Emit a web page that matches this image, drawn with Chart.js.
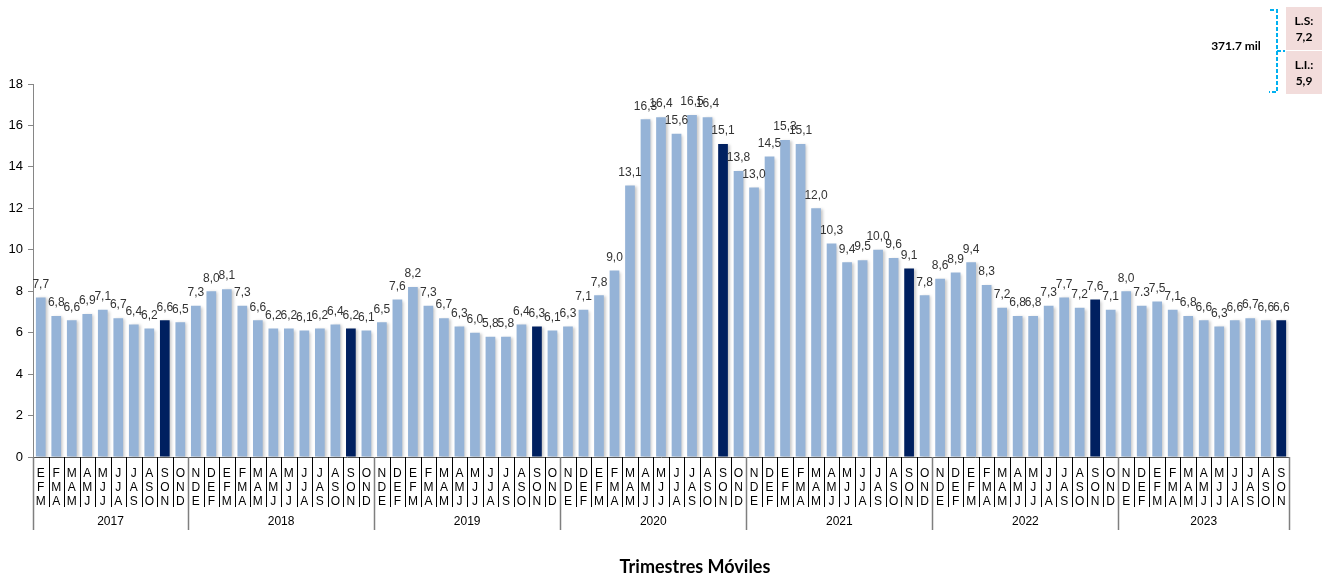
<!DOCTYPE html>
<html>
<head>
<meta charset="utf-8">
<script src="https://cdn.jsdelivr.net/npm/chart.js@4.4.1/dist/chart.umd.min.js"></script>
<style>
html,body{margin:0;padding:0;background:#fff;}
#wrap{width:1322px;height:576px;position:relative;}
</style>
</head>
<body>
<div id="wrap"><canvas id="c" width="1322" height="576"></canvas></div>
<script>
const categories = [
  'EFM','FMA','MAM','AMJ','MJJ','JJA','JAS','ASO','SON','OND',
  'NDE','DEF','EFM','FMA','MAM','AMJ','MJJ','JJA','JAS','ASO','SON','OND',
  'NDE','DEF','EFM','FMA','MAM','AMJ','MJJ','JJA','JAS','ASO','SON','OND',
  'NDE','DEF','EFM','FMA','MAM','AMJ','MJJ','JJA','JAS','ASO','SON','OND',
  'NDE','DEF','EFM','FMA','MAM','AMJ','MJJ','JJA','JAS','ASO','SON','OND',
  'NDE','DEF','EFM','FMA','MAM','AMJ','MJJ','JJA','JAS','ASO','SON','OND',
  'NDE','DEF','EFM','FMA','MAM','AMJ','MJJ','JJA','JAS','ASO','SON'
];
const values = [
  7.7,6.8,6.6,6.9,7.1,6.7,6.4,6.2,6.6,6.5,
  7.3,8.0,8.1,7.3,6.6,6.2,6.2,6.1,6.2,6.4,6.2,6.1,
  6.5,7.6,8.2,7.3,6.7,6.3,6.0,5.8,5.8,6.4,6.3,6.1,
  6.3,7.1,7.8,9.0,13.1,16.3,16.4,15.6,16.5,16.4,15.1,13.8,
  13.0,14.5,15.3,15.1,12.0,10.3,9.4,9.5,10.0,9.6,9.1,7.8,
  8.6,8.9,9.4,8.3,7.2,6.8,6.8,7.3,7.7,7.2,7.6,7.1,
  8.0,7.3,7.5,7.1,6.8,6.6,6.3,6.6,6.7,6.6,6.6
];
const years = ['2017','2018','2019','2020','2021','2022','2023'];
const yearCounts = [10,12,12,12,12,12,11];
const yTicks = [0,2,4,6,8,10,12,14,16,18];
// the source prints this one value with a period
const labelOverrides = { 71: '7.3' };

const LIGHT = '#95B3D7', DARK = '#002060';
const NARROW = "'Liberation Sans Narrow','Arial Narrow','Liberation Sans',Arial,sans-serif";
const barColors = categories.map(c => c === 'SON' ? DARK : LIGHT);
const fmt = (v, i) => labelOverrides[i] || v.toFixed(1).replace('.', ',');

const decor = {
  id: 'decor',
  beforeDatasetsDraw(chart) {
    const ctx = chart.ctx;
    ctx.save();
    ctx.shadowColor = 'rgba(0,0,0,0.22)';
    ctx.shadowBlur = 3;
    ctx.shadowOffsetX = 2;
    ctx.shadowOffsetY = 1;
  },
  afterDatasetsDraw(chart) {
    const ctx = chart.ctx;
    ctx.restore();
    const meta = chart.getDatasetMeta(0);
    ctx.save();
    ctx.font = "12px " + NARROW;
    ctx.fillStyle = '#333';
    ctx.textAlign = 'center';
    ctx.textBaseline = 'bottom';
    meta.data.forEach((bar, i) => {
      ctx.fillText(fmt(values[i], i), bar.x, bar.y - 7);
    });
    ctx.restore();
  },
  afterDraw(chart) {
    const ctx = chart.ctx;
    const xs = chart.scales.x;
    const bottom = chart.chartArea.bottom;
    const step = xs.getPixelForValue(1) - xs.getPixelForValue(0);
    const edge = i => xs.getPixelForValue(i) - step / 2;
    const groupEdges = [0];
    yearCounts.reduce((a, n) => { groupEdges.push(a + n); return a + n; }, 0);
    ctx.save();
    ctx.strokeStyle = '#000';
    ctx.lineWidth = 1;
    for (let i = 1; i < categories.length; i++) {
      if (groupEdges.includes(i)) continue;
      const x = Math.round(edge(i)) + 0.5;
      ctx.beginPath(); ctx.moveTo(x, bottom); ctx.lineTo(x, bottom + 50); ctx.stroke();
    }
    ctx.strokeStyle = '#7f7f7f';
    ctx.lineWidth = 1.5;
    groupEdges.forEach(g => {
      const x = Math.round(edge(g)) + 0.5;
      ctx.beginPath(); ctx.moveTo(x, bottom); ctx.lineTo(x, bottom + 73); ctx.stroke();
    });
    ctx.fillStyle = '#000';
    ctx.font = "12px " + NARROW;
    ctx.textAlign = 'center';
    ctx.textBaseline = 'middle';
    years.forEach((y, k) => {
      const x = (edge(groupEdges[k]) + edge(groupEdges[k + 1])) / 2;
      ctx.fillText(y, x, bottom + 65);
    });
    ctx.font = "bold 18px Lato, 'Open Sans', sans-serif";
    ctx.fillStyle = '#000';
    ctx.fillText('Trimestres Móviles', 695, 567);

    ctx.fillStyle = '#F2DCDB';
    ctx.fillRect(1286, 7, 36, 43);
    ctx.fillRect(1286, 51, 36, 43);
    ctx.fillStyle = '#000';
    ctx.font = "bold 12px Lato, 'Open Sans', sans-serif";
    ctx.textAlign = 'center';
    ctx.fillText('L.S:', 1304, 21);
    ctx.fillText('7,2', 1304, 37);
    ctx.fillText('L.I.:', 1304, 65);
    ctx.fillText('5,9', 1304, 81);
    ctx.font = "bold 12px Lato, 'Open Sans', sans-serif";
    ctx.fillText('371.7 mil', 1236, 46);
    ctx.strokeStyle = '#00B0F0';
    ctx.lineWidth = 2;
    ctx.setLineDash([4, 2]);
    ctx.beginPath();
    ctx.moveTo(1270, 10); ctx.lineTo(1277, 10); ctx.lineTo(1277, 92); ctx.lineTo(1269, 92);
    ctx.moveTo(1277, 51); ctx.lineTo(1285, 51);
    ctx.stroke();
    ctx.restore();
  }
};

new Chart(document.getElementById('c'), {
  type: 'bar',
  data: {
    labels: categories.map(c => c.split('')),
    datasets: [{
      data: values,
      backgroundColor: barColors,
      borderWidth: 0,
      barPercentage: 0.66,
      categoryPercentage: 0.95
    }]
  },
  options: {
    responsive: false,
    animation: false,
    events: [],
    layout: { padding: { top: 84, right: 33, left: 0, bottom: 0 } },
    plugins: { legend: { display: false }, tooltip: { enabled: false } },
    scales: {
      x: {
        grid: { display: false, drawTicks: false },
        border: { display: true, color: '#555', width: 1 },
        ticks: {
          autoSkip: false, maxRotation: 0, minRotation: 0,
          padding: 9, color: '#000',
          font: { family: NARROW, size: 12, lineHeight: 1.2 }
        },
        afterFit(s) { s.height = 119; }
      },
      y: {
        min: 0, max: 18,
        afterBuildTicks(s) { s.ticks = yTicks.map(v => ({ value: v })); },
        grid: { drawOnChartArea: false, drawTicks: true, tickLength: 5, color: '#868686' },
        border: { display: true, color: '#868686', width: 1 },
        ticks: { padding: 5, color: '#000', font: { family: NARROW, size: 13 } },
        afterFit(s) { s.width = 33; }
      }
    }
  },
  plugins: [decor]
});
</script>
</body>
</html>
